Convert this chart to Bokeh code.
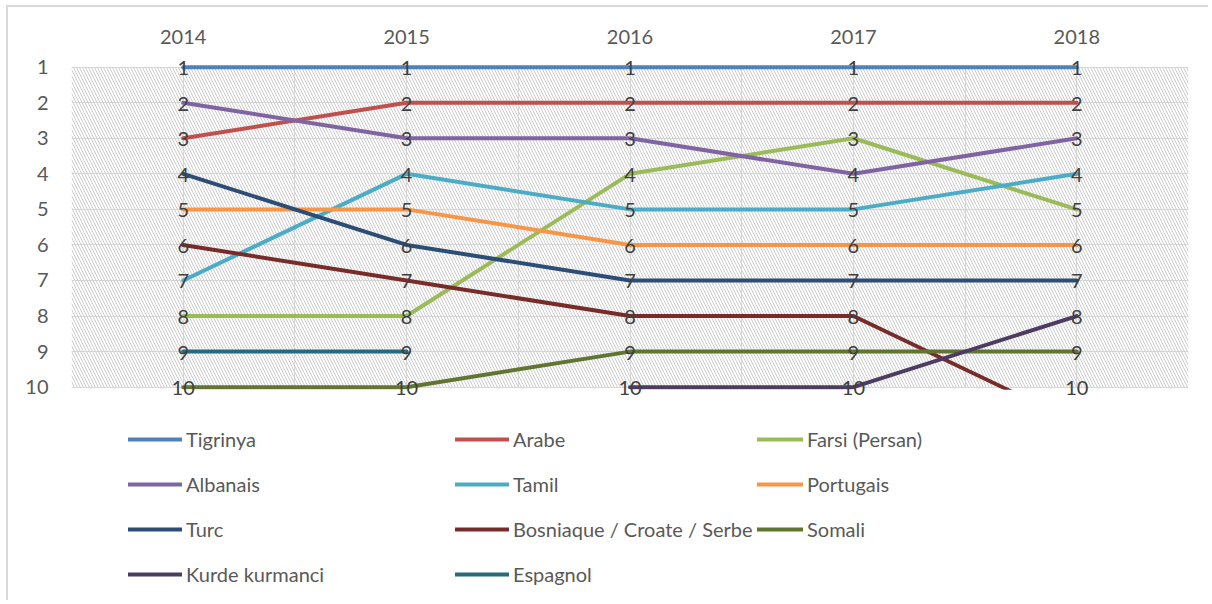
import math
from bokeh.plotting import figure
from bokeh.models import (Range1d, FixedTicker, ColumnDataSource, LabelSet,
                          Legend, LegendItem, BoxAnnotation)
from bokeh.core.properties import value
from bokeh.embed import file_html
from bokeh.resources import INLINE

nan = float("nan")

years = ["2014", "2015", "2016", "2017", "2018"]
ranks = [1, 2, 3, 4, 5, 6, 7, 8, 9, 10]

tigrinya = [1, 1, 1, 1, 1]
arabe = [3, 2, 2, 2, 2]
farsi = [8, 8, 4, 3, 5]
albanais = [2, 3, 3, 4, 3]
tamil = [7, 4, 5, 5, 4]
portugais = [5, 5, 6, 6, 6]
turc = [4, 6, 7, 7, 7]
bosniaque = [6, 7, 8, 8, 11]
somali = [10, 10, 9, 9, 9]
kurde = [nan, nan, 10, 10, 8]
espagnol = [9, 9, nan, nan, 10]

names = ["Tigrinya", "Arabe", "Farsi (Persan)", "Albanais", "Tamil", "Portugais",
         "Turc", "Bosniaque / Croate / Serbe", "Somali", "Kurde kurmanci", "Espagnol"]
values = [tigrinya, arabe, farsi, albanais, tamil, portugais,
          turc, bosniaque, somali, kurde, espagnol]
colors = ["#4F81BD", "#C0504D", "#9BBB59", "#8064A2", "#4BACC6", "#F79646",
          "#2C4D75", "#772C2A", "#5F7530", "#4D3B62", "#276A7C"]

FONT = "Lato"
x_idx = list(range(len(years)))
lo, hi = min(ranks), max(ranks)
pad = 0.3
# the frame also hosts the legend area below the plot area
y_end = 15.916

p = figure(width=1202, height=595,
           x_range=Range1d(-0.5, len(years) - 0.5),
           y_range=Range1d(y_end, lo - pad),
           x_axis_location="above",
           output_backend="svg", toolbar_location=None,
           min_border_left=63, min_border_right=22,
           min_border_top=49, min_border_bottom=5)
p.styles = {"border-left": "2px solid #d9d9d9", "border-top": "2px solid #d9d9d9",
            "margin-left": "6px", "margin-top": "5px"}
p.outline_line_color = None
p.background_fill_color = "white"

# hatched plot area
hatch = BoxAnnotation(left=-0.5, right=len(years) - 0.5, top=lo, bottom=hi,
                      fill_alpha=0, line_alpha=0, hatch_pattern="\\", hatch_color="#cccccc",
                      hatch_scale=6, hatch_weight=1, level="underlay")
p.add_layout(hatch)

# grids
p.xgrid.ticker = FixedTicker(ticks=[i * 0.5 - 0.5 for i in range(2 * len(years) + 1)])
p.ygrid.ticker = FixedTicker(ticks=ranks)
p.xgrid.cross_bounds = (lo, hi)
for g in (p.xgrid, p.ygrid):
    g.grid_line_color = "#d9d9d9"
    g.grid_line_width = 1

# axes
p.xaxis.ticker = FixedTicker(ticks=x_idx)
p.xaxis.major_label_overrides = {i: y for i, y in zip(x_idx, years)}
p.yaxis.ticker = FixedTicker(ticks=ranks)
for ax in (p.xaxis, p.yaxis):
    ax.axis_line_color = None
    ax.major_tick_line_color = None
    ax.minor_tick_line_color = None
    ax.major_tick_out = 0
    ax.major_tick_in = 0
    ax.minor_tick_out = 0
    ax.major_label_text_font = FONT
    ax.major_label_text_font_size = "20px"
    ax.major_label_text_color = "#595959"
p.xaxis.major_label_standoff = 13
p.yaxis.major_label_standoff = 23

# lines
items = []
for name, vals, col in zip(names, values, colors):
    r = p.line(x_idx, vals, line_color=col, line_width=4, line_cap="round", line_join="round")
    items.append(LegendItem(label=name, renderers=[r]))

# hide the part of lines falling outside the plot area (below the last rank)
cover = BoxAnnotation(left=-0.5, right=len(years) - 0.5, top=hi + 0.07, bottom=y_end,
                      fill_color="white", fill_alpha=1, line_alpha=0)
p.add_layout(cover)

# data labels
lx, ly, lt = [], [], []
for vals in values:
    for xi, v in zip(x_idx, vals):
        if not math.isnan(v) and lo <= v <= hi:
            lx.append(xi)
            ly.append(v)
            lt.append(str(int(v)))
labels = LabelSet(x="x", y="y", text="t", source=ColumnDataSource(dict(x=lx, y=ly, t=lt)),
                  text_align="center", text_baseline="middle", text_font=value(FONT),
                  text_font_size=value("20px"), text_color="#404040", y_offset=-1)
p.add_layout(labels)

# legends (3 columns)
def make_legend(its, loc, gw):
    return Legend(items=its, location=loc, orientation="vertical",
                  glyph_width=gw, glyph_height=24, label_height=24, spacing=21,
                  padding=0, margin=0, border_line_color=None, background_fill_alpha=0,
                  label_standoff=4, label_text_font=FONT, label_text_font_size="20px",
                  label_text_color="#595959")

p.add_layout(make_legend(items[0::3], (57, 11), 54))
p.add_layout(make_legend(items[1::3], (384, 11), 54))
p.add_layout(make_legend(items[2::3], (686, 56), 46))

open("out.html", "w").write(file_html(p, INLINE))
